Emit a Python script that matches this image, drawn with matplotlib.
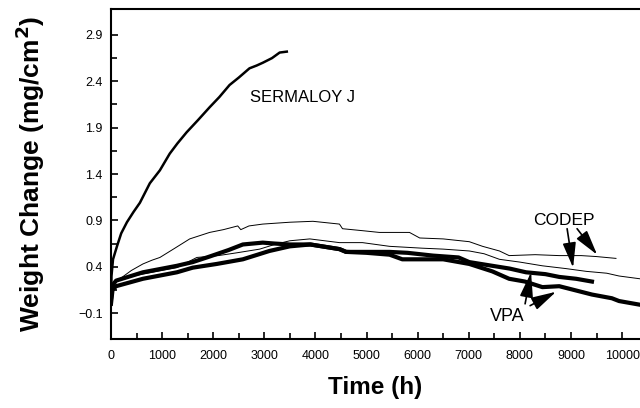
import matplotlib.pyplot as plt
from matplotlib.ticker import MultipleLocator

plt.rcParams['font.family'] = ['Liberation Sans', 'DejaVu Sans']

# SERMALOY J
t_serm = [0, 10, 40, 117, 200, 312, 440, 566, 760, 957, 1150, 1300, 1480, 1700,
          1930, 2120, 2320, 2500, 2710, 2850, 2970, 3150, 3300, 3440]
w_serm = [0.00, 0.30, 0.48, 0.62, 0.76, 0.88, 0.99, 1.09, 1.30, 1.44, 1.62, 1.73,
          1.85, 1.98, 2.12, 2.23, 2.36, 2.44, 2.54, 2.57, 2.60, 2.65, 2.71, 2.72]

# CODEP (upper thin)
t_cod1 = [0, 50, 176, 400, 625, 800, 957, 1250, 1540, 1930, 2200, 2480, 2540, 2700,
          2970, 3500, 3950, 4470, 4530, 4900, 5250, 5840, 6040, 6500, 7010, 7270,
          7600, 7790, 8300, 8770, 9200, 9490, 9880]
w_cod1 = [0.12, 0.22, 0.27, 0.36, 0.43, 0.47, 0.50, 0.60, 0.70, 0.77, 0.80, 0.84,
          0.80, 0.84, 0.86, 0.88, 0.89, 0.86, 0.81, 0.79, 0.77, 0.77, 0.71, 0.70,
          0.67, 0.62, 0.57, 0.52, 0.53, 0.52, 0.52, 0.51, 0.49]

# CODEP (lower thin)
t_cod2 = [0, 100, 300, 625, 1000, 1290, 1680, 2100, 2460, 2910, 3200, 3500, 3890,
          4470, 4920, 5450, 6090, 6500, 7010, 7300, 7600, 8000, 8440, 8900, 9300,
          9700, 9940, 10350]
w_cod2 = [0.10, 0.25, 0.29, 0.32, 0.36, 0.39, 0.50, 0.52, 0.55, 0.59, 0.64, 0.68,
          0.70, 0.66, 0.66, 0.62, 0.60, 0.59, 0.57, 0.54, 0.48, 0.45, 0.41, 0.38,
          0.35, 0.33, 0.30, 0.27]

# VPA (upper thick)
t_vpa1 = [0, 30, 100, 625, 1290, 1600, 1930, 2300, 2580, 2970, 3200, 3500, 3900,
          4470, 4600, 5000, 5450, 5800, 6300, 6800, 7010, 7460, 7800, 8120, 8500,
          8770, 9100, 9410]
w_vpa1 = [0.05, 0.20, 0.25, 0.34, 0.41, 0.45, 0.51, 0.58, 0.64, 0.66, 0.65, 0.64,
          0.64, 0.59, 0.56, 0.56, 0.56, 0.55, 0.52, 0.50, 0.45, 0.41, 0.38, 0.34,
          0.32, 0.29, 0.27, 0.24]

# VPA (lower thick)
t_vpa2 = [0, 30, 100, 625, 1290, 1600, 2070, 2580, 3100, 3500, 3900, 4470, 4600,
          5000, 5450, 5700, 6100, 6500, 7010, 7460, 7790, 8100, 8440, 8770, 9410,
          9800, 9940, 10350]
w_vpa2 = [0.00, 0.15, 0.19, 0.27, 0.34, 0.39, 0.43, 0.48, 0.57, 0.62, 0.64, 0.59,
          0.56, 0.55, 0.53, 0.48, 0.48, 0.48, 0.43, 0.35, 0.27, 0.24, 0.18, 0.19,
          0.10, 0.06, 0.03, -0.01]

fig = plt.figure(figsize=(6.4, 4.08), dpi=100)
ax = fig.add_axes([0.1734, 0.169, 0.8266, 0.809])

ax.plot(t_serm, w_serm, color='black', lw=1.8)
ax.plot(t_cod1, w_cod1, color='black', lw=0.7)
ax.plot(t_cod2, w_cod2, color='black', lw=0.7)
ax.plot(t_vpa1, w_vpa1, color='black', lw=3)
ax.plot(t_vpa2, w_vpa2, color='black', lw=3)

ax.set_xlim(0, 10350)
ax.set_ylim(-0.38, 3.18)
ax.xaxis.set_major_locator(MultipleLocator(1000))
ax.xaxis.set_minor_locator(MultipleLocator(500))
ax.set_yticks([-0.1, 0.4, 0.9, 1.4, 1.9, 2.4, 2.9])
ax.set_yticks([0.15, 0.65, 1.15, 1.65, 2.15, 2.65], minor=True)
ax.tick_params(which='both', direction='in', width=1.2, labelsize=9)
ax.tick_params(which='major', length=5)
ax.tick_params(which='minor', length=4)
ax.tick_params(axis='x', pad=8)
ax.tick_params(axis='y', pad=6)
ax.spines['right'].set_visible(False)
for s in ['left', 'bottom', 'top']:
    ax.spines[s].set_linewidth(1.5)

ax.set_xlabel('Time (h)', fontsize=17.5, fontweight='bold', labelpad=10)
ax.set_ylabel('Weight Change (mg/cm$^\\mathbf{2}$)', fontsize=19, fontweight='bold', labelpad=22)

ax.text(2720, 2.23, 'SERMALOY J', fontsize=12, ha='left', va='center')
ax.text(8258, 0.90, 'CODEP', fontsize=12.5, ha='left', va='center')
ax.text(7417, -0.14, 'VPA', fontsize=13, ha='left', va='center')

arr = dict(arrowstyle='-|>,head_length=1.7,head_width=0.45', color='black', lw=1.2,
           mutation_scale=9, shrinkA=0, shrinkB=0)
ax.annotate('', xy=(9041, 0.39), xytext=(8924, 0.81), arrowprops=arr)
ax.annotate('', xy=(9511, 0.53), xytext=(9119, 0.81), arrowprops=arr)
ax.annotate('', xy=(8219, 0.34), xytext=(8102, 0.00), arrowprops=arr)
ax.annotate('', xy=(8708, 0.13), xytext=(8200, -0.02), arrowprops=arr)

plt.savefig('out.png', dpi=100)
